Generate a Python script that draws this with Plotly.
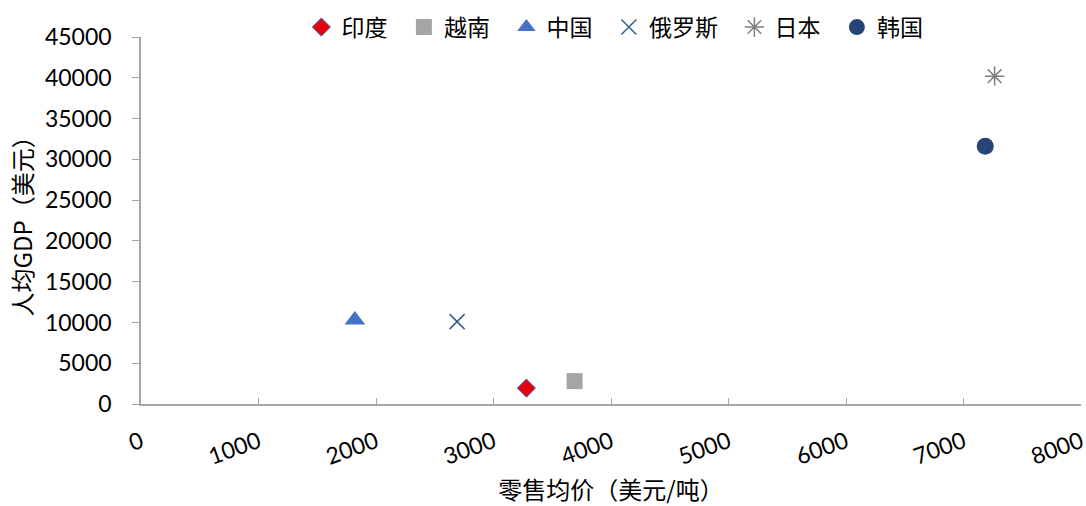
import plotly.graph_objects as go

# 各国零售均价（美元/吨）与人均GDP（美元）
countries = ["印度", "越南", "中国", "俄罗斯", "日本", "韩国"]
retail_price = [3280, 3690, 1820, 2690, 7265, 7185]
gdp_per_capita = [1950, 2800, 10300, 10100, 40200, 31600]

x_ticks = [0, 1000, 2000, 3000, 4000, 5000, 6000, 7000, 8000]
y_ticks = [0, 5000, 10000, 15000, 20000, 25000, 30000, 35000, 40000, 45000]

styles = {
    "印度": dict(symbol="diamond", size=14, color="#E3000F", line=dict(color="#4472C4", width=1)),
    "越南": dict(symbol="square", size=16, color="#A5A5A5", line=dict(width=0)),
    "中国": dict(symbol="triangle-up", size=18, color="#4472C4", line=dict(width=0)),
    "俄罗斯": dict(symbol="x-thin-open", size=15, color="#2E5F8E", line=dict(color="#2E5F8E", width=1.5)),
    "日本": dict(symbol="asterisk-open", size=16, color="#7F7F7F", line=dict(color="#7F7F7F", width=1.5)),
    "韩国": dict(symbol="circle", size=17, color="#264478", line=dict(width=0)),
}

num_font = "Lato, Open Sans, sans-serif"
cjk_font = "Noto Sans CJK SC, sans-serif"
entry_pad = "\u2002"  # extra room after each legend label

fig = go.Figure()
for name, xv, yv in zip(countries, retail_price, gdp_per_capita):
    fig.add_trace(go.Scatter(
        x=[xv], y=[yv], mode="markers", name=name + entry_pad,
        marker=styles[name],
    ))

fig.update_layout(
    width=1086, height=506,
    margin=dict(l=141, r=5, t=37, b=102, autoexpand=False),
    paper_bgcolor="white", plot_bgcolor="white",
    font=dict(family=num_font, size=23, color="#000000"),
    legend=dict(
        orientation="h", x=0.51, xanchor="center", y=1.027, yanchor="middle",
        font=dict(size=23, family=cjk_font),
        itemwidth=30, tracegroupgap=0, bgcolor="rgba(0,0,0,0)",
    ),
    showlegend=True,
)

fig.update_xaxes(
    range=[0, 8000], tickvals=x_ticks, ticktext=[str(v) for v in x_ticks],
    showgrid=False, zeroline=False,
    showline=True, linecolor="#A6A6A6", linewidth=1.5,
    ticks="inside", ticklen=6, tickcolor="#A6A6A6", tickwidth=1,
    tickangle=-20, ticklabelstandoff=14, ticklabeloverflow="allow",
    tickfont=dict(size=23, family=num_font),
    title=dict(text="零售均价（美元/吨）", font=dict(size=24, family=cjk_font), standoff=17),
)
fig.update_yaxes(
    range=[0, 45000], tickvals=y_ticks, ticktext=[str(v) for v in y_ticks],
    showgrid=False, zeroline=False,
    showline=True, linecolor="#A6A6A6", linewidth=1.5,
    ticks="outside", ticklen=7, tickcolor="#A6A6A6", tickwidth=1,
    ticklabelstandoff=16,
    tickfont=dict(size=23, family=num_font),
    title=dict(text="人均GDP（美元）", font=dict(size=24, family=cjk_font), standoff=6),
)

fig.write_html("out.html")
